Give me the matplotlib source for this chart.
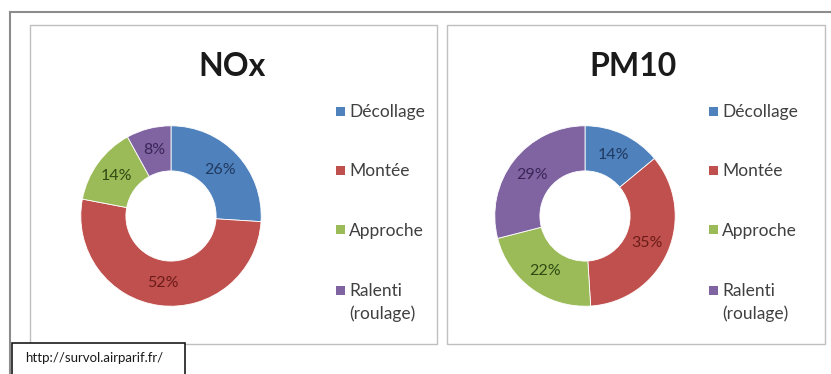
import matplotlib
matplotlib.use("Agg")
import matplotlib.pyplot as plt
from matplotlib.patches import Rectangle
from matplotlib.lines import Line2D

plt.rcParams['font.family'] = ['Lato', 'DejaVu Sans']

# Data
categories = ["Décollage", "Montée", "Approche", "Ralenti\n(roulage)"]
nox_share = [26, 52, 14, 8]
pm10_share = [14, 35, 22, 29]
titles = ["NOx", "PM10"]
source_url = "http://survol.airparif.fr/"

colors = ["#4F81BD", "#C0504D", "#9BBB59", "#8064A2"]
label_colors = ["#1F3A60", "#6B1C1A", "#2E4A12", "#3B2658"]

W, H = 831, 374
fig = plt.figure(figsize=(W / 100, H / 100), dpi=100)
fig.patch.set_facecolor("white")


def fx(x):
    return x / W


def fy(y):
    return 1 - y / H


def box(x0, y0, x1, y1, ec, lw=1.0, fc="none", z=1):
    fig.add_artist(Rectangle((fx(x0), fy(y1)), fx(x1 - x0), (y1 - y0) / H,
                             transform=fig.transFigure, fc=fc, ec=ec, lw=lw, zorder=z))


# Outer frame (top and left edges)
fig.add_artist(Line2D([fx(10), fx(831)], [fy(12), fy(12)], transform=fig.transFigure,
                      color="#8C8C8C", lw=1.5))
fig.add_artist(Line2D([fx(10), fx(10)], [fy(12), fy(374)], transform=fig.transFigure,
                      color="#8C8C8C", lw=1.5))

panels = [
    dict(x0=30, x1=437, cx=171, title_x=232, leg_x=336, values=nox_share),
    dict(x0=447, x1=825, cx=585, title_x=633, leg_x=709, values=pm10_share),
]
cy, radius = 216, 92
legend_y = [111, 170, 230, 290]
line_step = 23

for title, p in zip(titles, panels):
    box(p["x0"], 25, p["x1"], 344, ec="#BFBFBF", lw=1.0)
    fig.text(fx(p["title_x"]), fy(66), title, ha="center", va="center",
             fontsize=23, fontweight="bold", color="#1A1A1A")

    ax = fig.add_axes([fx(p["cx"] - radius), fy(cy + radius), fx(2 * radius), 2 * radius / H])
    wedges, _, autotexts = ax.pie(
        p["values"], colors=colors, startangle=90, counterclock=False,
        radius=1.0, autopct="%d%%", pctdistance=0.75,
        wedgeprops=dict(width=0.5, edgecolor="white", linewidth=0.6),
        textprops=dict(fontsize=11.5))
    for t, c in zip(autotexts, label_colors):
        t.set_color(c)
    ax.set_xlim(-1.02, 1.02)
    ax.set_ylim(-1.02, 1.02)
    ax.set_aspect("equal")
    ax.axis("off")

    # Legend: colour square beside the first line of each entry
    for cat, col, y in zip(categories, colors, legend_y):
        box(p["leg_x"], y - 4.5, p["leg_x"] + 9, y + 4.5, ec="none", fc=col, z=3)
        for i, line in enumerate(cat.split("\n")):
            fig.text(fx(p["leg_x"] + 13), fy(y + 6 + i * line_step), line,
                     ha="left", va="baseline", fontsize=12.5, color="#404040")

# Source box
box(12, 343, 185, 376, ec="#1A1A1A", lw=1.2, fc="white", z=5)
fig.text(fx(25), fy(358), source_url, ha="left", va="center",
         fontsize=9.5, color="#1A1A1A", zorder=6)

fig.savefig("out.png", dpi=100, facecolor="white")
